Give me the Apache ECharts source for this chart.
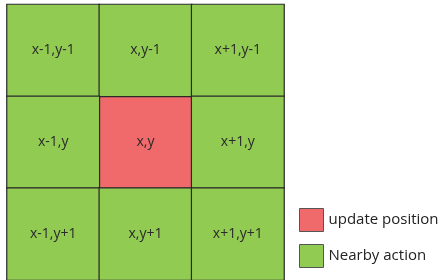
<!DOCTYPE html>
<html>
<head>
<meta charset="utf-8">
<script src="https://cdn.jsdelivr.net/npm/echarts@6/dist/echarts.min.js"></script>
<style>html,body{margin:0;padding:0;background:#fff;}#c{width:441px;height:280px;}</style>
</head>
<body>
<div id="c"></div>
<script>
var xCats = ['x-1', 'x', 'x+1'];
var yCats = ['y-1', 'y', 'y+1'];
var seriesNames = ['update position', 'Nearby action'];
var seriesColors = ['#F0696B', '#92CB52'];
// cell role: 0 = update position, 1 = nearby action
var roles = [
  [1, 1, 1],
  [1, 0, 1],
  [1, 1, 1]
];

function cellLabel(xi, yi) {
  return xCats[xi] + ',' + yCats[yi];
}

var seriesData = [[], []];
for (var yi = 0; yi < yCats.length; yi++) {
  for (var xi = 0; xi < xCats.length; xi++) {
    seriesData[roles[yi][xi]].push({value: [xi, yi, 1], name: cellLabel(xi, yi)});
  }
}

var chart = echarts.init(document.getElementById('c'), null, {renderer: 'canvas'});
chart.setOption({
  animation: false,
  grid: {left: 7, top: 4.5, width: 277, height: 276},
  xAxis: {type: 'category', data: xCats, show: false},
  yAxis: {type: 'category', data: yCats, inverse: true, show: false},
  legend: {
    orient: 'vertical',
    left: 299,
    top: 208,
    padding: 0,
    itemWidth: 24,
    itemHeight: 23,
    itemGap: 12,
    icon: 'rect',
    textStyle: {fontFamily: 'Open Sans', fontSize: 15, color: '#222'},
    itemStyle: {borderColor: '#555', borderWidth: 1},
    data: seriesNames
  },
  series: seriesNames.map(function (name, i) {
    return {
      type: 'heatmap',
      name: name,
      data: seriesData[i],
      color: seriesColors[i],
      itemStyle: {color: seriesColors[i], borderColor: '#2a2a2a', borderWidth: 1.2},
      label: {
        show: true,
        formatter: function (p) { return p.name; },
        fontFamily: 'Open Sans',
        fontSize: 14,
        color: '#2a2a2a'
      },
      emphasis: {disabled: true}
    };
  })
});
</script>
</body>
</html>
